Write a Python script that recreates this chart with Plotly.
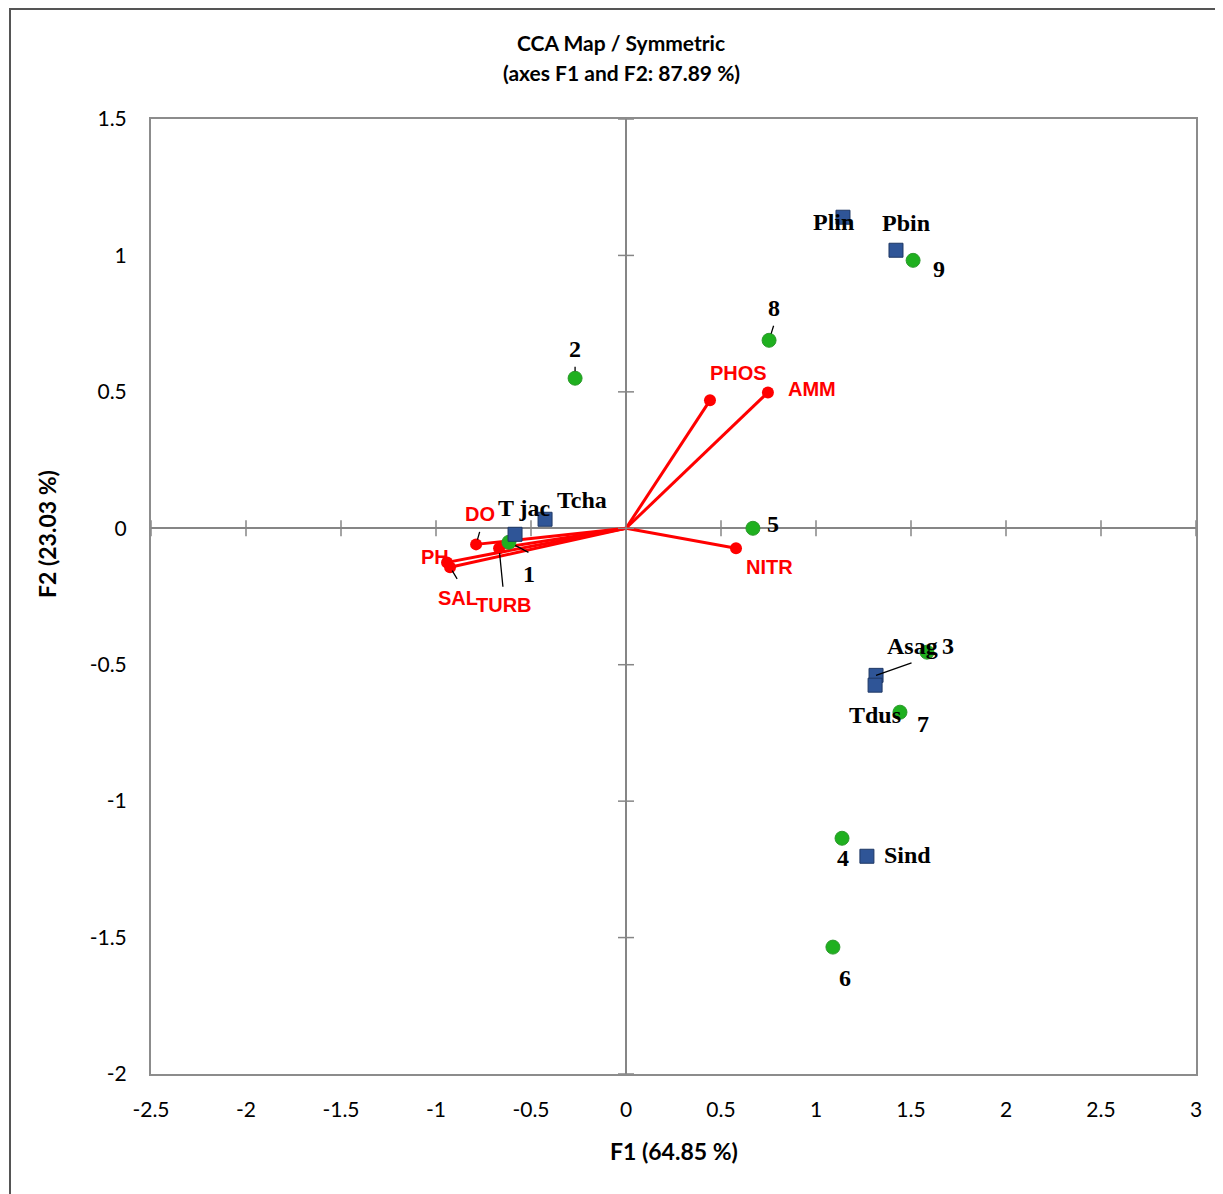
import plotly.graph_objects as go

# ---------------- data ----------------
site_names = ["1", "2", "3", "4", "5", "6", "7", "8", "9"]
site_f1 = [-0.616, -0.268, 1.584, 1.137, 0.668, 1.089, 1.442, 0.753, 1.511]
site_f2 = [-0.051, 0.550, -0.454, -1.136, 0.000, -1.535, -0.674, 0.689, 0.982]

species_names = ["Plin", "Pbin", "T jac", "Tcha", "Asag", "Tdus", "Sind"]
species_f1 = [1.142, 1.421, -0.584, -0.426, 1.316, 1.311, 1.268]
species_f2 = [1.140, 1.019, -0.022, 0.033, -0.539, -0.575, -1.202]

var_names = ["PHOS", "AMM", "NITR", "DO", "PH", "SAL", "TURB"]
var_f1 = [0.442, 0.747, 0.579, -0.789, -0.942, -0.926, -0.668]
var_f2 = [0.469, 0.498, -0.073, -0.059, -0.125, -0.143, -0.073]

x_ticks = [-2.5, -2, -1.5, -1, -0.5, 0, 0.5, 1, 1.5, 2, 2.5, 3]
y_ticks = [-2, -1.5, -1, -0.5, 0, 0.5, 1, 1.5]

# label offsets in pixels (xshift, yshift)
site_label_off = [(20, -32), (0, 29), (21, 6), (1, -20), (20, 4), (12, -31), (23, -12), (5, 32), (26, -9)]
species_label_off = [(-9, -5), (10, 27), (9, 26), (37, 19), (36, 29), (0, -30), (41, 1)]
var_label_off = [(29, 27), (44, 3), (33, -19), (4, 30), (-12, 5), (8, -31), (5, -57)]

# leader lines: (group, index, ax, ay, standoff)
leaders = [("site", 0, 21, 11, 7), ("site", 1, 0, -13, 7), ("site", 7, 5, -16, 7),
           ("species", 4, 37, -13, 0), ("var", 3, 4, -14, 5), ("var", 5, 8, 13, 4),
           ("var", 6, 4, 40, 5)]

fig = go.Figure()

# red vectors from origin
lx, ly = [], []
for a, b in zip(var_f1, var_f2):
    lx += [0, a, None]
    ly += [0, b, None]
fig.add_trace(go.Scatter(x=lx, y=ly, mode="lines", line=dict(color="#ff0000", width=3),
                         hoverinfo="skip", showlegend=False))
fig.add_trace(go.Scatter(x=var_f1, y=var_f2, mode="markers",
                         marker=dict(color="#ff0000", size=12, line=dict(width=0)),
                         text=var_names, showlegend=False))
fig.add_trace(go.Scatter(x=site_f1, y=site_f2, mode="markers",
                         marker=dict(color="#1fb01f", size=14, line=dict(color="#2e9a2e", width=1)),
                         text=site_names, showlegend=False))
fig.add_trace(go.Scatter(x=species_f1, y=species_f2, mode="markers",
                         marker=dict(color="#2f5597", size=14, symbol="square",
                                     line=dict(color="#1f3864", width=1)),
                         text=species_names, showlegend=False))

annotations = []
serif = dict(family="Liberation Serif", size=24, color="black")
sans_red = dict(family="Liberation Sans", size=20, color="#ff0000")
for n, x, y, (dx, dy) in zip(site_names, site_f1, site_f2, site_label_off):
    annotations.append(dict(x=x, y=y, text="<b>%s</b>" % n, showarrow=False, xshift=dx, yshift=dy, font=serif))
for n, x, y, (dx, dy) in zip(species_names, species_f1, species_f2, species_label_off):
    annotations.append(dict(x=x, y=y, text="<b>%s</b>" % n, showarrow=False, xshift=dx, yshift=dy, font=serif))
for n, x, y, (dx, dy) in zip(var_names, var_f1, var_f2, var_label_off):
    annotations.append(dict(x=x, y=y, text="<b>%s</b>" % n, showarrow=False, xshift=dx, yshift=dy, font=sans_red))

groups = {"site": (site_f1, site_f2), "species": (species_f1, species_f2), "var": (var_f1, var_f2)}
for g, i, ax, ay, so in leaders:
    xs, ys = groups[g]
    annotations.append(dict(x=xs[i], y=ys[i], text="", showarrow=True, arrowhead=0, arrowwidth=1.3,
                            arrowcolor="black", ax=ax, ay=ay, standoff=so))

# titles
title_font = dict(family="Lato", size=21, color="black")
annotations.append(dict(xref="paper", yref="paper", x=0.4498, y=1.0796, text="<b>CCA Map / Symmetric</b>",
                        showarrow=False, font=title_font, yanchor="middle"))
annotations.append(dict(xref="paper", yref="paper", x=0.4498, y=1.0492, text="<b>(axes F1 and F2: 87.89 %)</b>",
                        showarrow=False, font=title_font, yanchor="middle"))
annotations.append(dict(xref="paper", yref="paper", x=0.5, y=(1074 - 1151) / 955, text="<b>F1 (64.85 %)</b>",
                        showarrow=False, font=dict(family="Lato", size=23, color="black"), yanchor="middle"))
annotations.append(dict(xref="paper", yref="paper", x=(47 - 151) / 1045, y=(1074 - 534) / 955,
                        text="<b>F2 (23.03 %)</b>", textangle=-90,
                        showarrow=False, font=dict(family="Lato", size=23, color="black"),
                        xanchor="center", yanchor="middle"))

shapes = []
# tick marks on zero axes
for t in x_ticks:
    shapes.append(dict(type="line", xref="x", yref="y", x0=t, x1=t, y0=-8 / 272.86, y1=8 / 272.86,
                       line=dict(color="#868686", width=1.5)))
for t in y_ticks:
    shapes.append(dict(type="line", xref="x", yref="y", x0=-8 / 190, x1=8 / 190, y0=t, y1=t,
                       line=dict(color="#868686", width=1.5)))
# outer border
shapes.append(dict(type="rect", xref="paper", yref="paper",
                   x0=(10 - 151) / 1045, x1=(1240 - 151) / 1045,
                   y0=(1074 - 1210) / 955, y1=(1074 - 9) / 955,
                   line=dict(color="#555555", width=2), fillcolor="rgba(0,0,0,0)", layer="below"))

axis_common = dict(showgrid=False, showline=True, linecolor="#8c8c8c", linewidth=2, mirror=True,
                   ticks="", tickfont=dict(family="Lato", size=21, color="black"),
                   zeroline=True, zerolinecolor="#868686", zerolinewidth=1.5)

fig.update_layout(
    width=1215, height=1186,
    margin=dict(l=143, r=27, t=111, b=120),
    paper_bgcolor="white", plot_bgcolor="white",
    xaxis=dict(range=[-2.5, 3], tickvals=x_ticks, ticktext=[("%g" % v) for v in x_ticks],
               ticklabelstandoff=16, **axis_common),
    yaxis=dict(range=[-2, 1.5], tickvals=y_ticks, ticktext=[("%g" % v) for v in y_ticks],
               ticklabelstandoff=18, **axis_common),
    annotations=annotations, shapes=shapes, showlegend=False,
)

fig.write_html("out.html")
